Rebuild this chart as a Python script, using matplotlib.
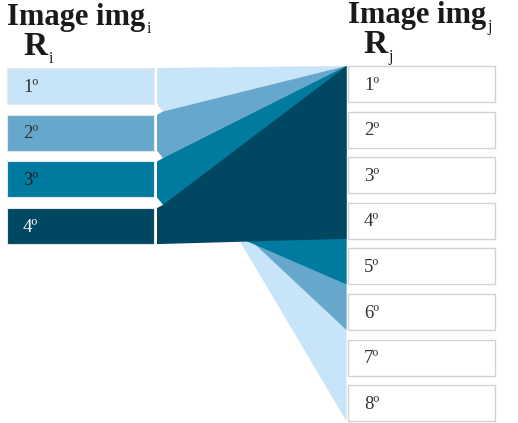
import matplotlib.pyplot as plt
from matplotlib.patches import Rectangle, Polygon

# data
left_labels = ['1º', '2º', '3º', '4º']
right_labels = ['1º', '2º', '3º', '4º', '5º', '6º', '7º', '8º']
# last right rank reached by each left region (all start at right rank 1)
end_rank = [8, 6, 5, 4]
colors = ['#C8E4F8', '#66A8CC', '#007A9E', '#004762']
text_colors = ['#333333', '#333333', '#1E1E1E', '#FFFFFF']

W, H = 518, 423
fig = plt.figure(figsize=(W / 100, H / 100), dpi=100)
ax = fig.add_axes([0, 0, 1, 1])
ax.set_xlim(0, W)
ax.set_ylim(H, 0)
ax.axis('off')

serif = ['Liberation Serif', 'DejaVu Serif']

# layout
lx0, lw, ltop, lstep, bh = 7, 147, 68, 46.7, 36
rx0, rw, rtop, rstep = 348, 147, 66, 45.6
px_left, px_tip, px_right = 157, 163, 346.5


def ltop_of(i):
    return ltop + i * lstep


def rtop_of(k):
    return rtop + k * rstep


# flow polygons, lightest first so darker ones sit on top
for i, e in enumerate(end_rank):
    top = ltop_of(i)
    bot = top + bh
    pts = [(px_left, top)]
    if i > 0:
        pts.append((px_tip, ltop_of(i - 1) + bh + (lstep - bh) * 0.7))
    pts.append((px_right, rtop_of(0)))
    pts.append((px_right, rtop_of(e - 1) + bh))
    if i < len(end_rank) - 1:
        pts.append((px_tip, bot + (lstep - bh) * 0.7))
    pts.append((px_left, bot))
    ax.add_patch(Polygon(pts, closed=True, facecolor=colors[i],
                         edgecolor='none', zorder=1))

# left boxes
for i, lab in enumerate(left_labels):
    y = ltop_of(i)
    ax.add_patch(Rectangle((lx0, y), lw, bh, facecolor=colors[i],
                           edgecolor='#E6E6E6', lw=0.8, zorder=2))
    ax.text(lx0 + 16, y + bh / 2 + 1, lab, fontsize=13.5, family=serif,
            color=text_colors[i], va='center', ha='left', zorder=3)

# right boxes
for k, lab in enumerate(right_labels):
    y = rtop_of(k)
    ax.add_patch(Rectangle((rx0, y), rw, bh, facecolor='white',
                           edgecolor='#D2D2D2', lw=1.0, zorder=2))
    ax.text(rx0 + 16, y + bh / 2 + 1, lab, fontsize=13.5, family=serif,
            color='#333333', va='center', ha='left', zorder=3)


def title(x, y, main, sub, size):
    t = ax.text(x, y, main, fontsize=size, family=serif, fontweight='bold',
                color='#1A1A1A', va='baseline', ha='left')
    ax.annotate(sub, xy=(1, 0), xycoords=t, xytext=(0.8, -0.5),
                textcoords='offset points', fontsize=11.5, family=serif,
                color='#1A1A1A', va='baseline', ha='left')


title(7, 25, 'Image img', 'i', 22)
title(23, 55, 'R', 'i', 24)
title(348, 23, 'Image img', 'j', 22)
title(363, 53, 'R', 'j', 24)

fig.savefig('out.png', dpi=100)
